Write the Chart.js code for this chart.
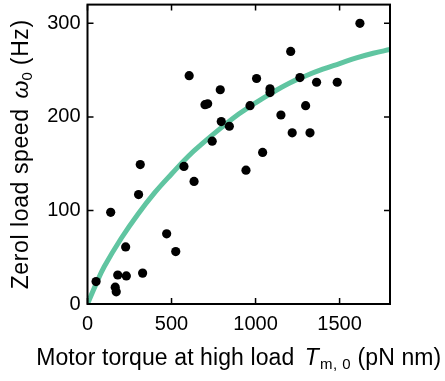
<!DOCTYPE html>
<html>
<head>
<meta charset="utf-8">
<script src="https://cdn.jsdelivr.net/npm/chart.js@4/dist/chart.umd.min.js"></script>
<style>
html,body{margin:0;padding:0;background:#fff;}
#wrap{width:445px;height:381px;}
</style>
</head>
<body>
<div id="wrap"><canvas id="c" width="445" height="381"></canvas></div>
<script>
// Measured points: motor torque (pN nm) and zero-load speed (Hz)
const torque = [51,165,171,180,231,227,138,304,314,328,471,525,574,605,634,699,715,742,790,796,844,943,967,1006,1042,1086,1086,1151,1209,1218,1264,1298,1324,1363,1486,1621];
const speed  = [24,18,13,31,30,61,98,117,149,33,75,56,147,244,131,213,214,174,229,195,190,143,212,241,162,230,226,202,270,183,242,212,183,237,237,300];
// Fitted curve
const curveX = [0,50,100,200,300,400,500,600,700,800,900,1000,1100,1200,1300,1400,1500,1600,1700,1800];
const curveY = [0,21,40,70,96,119,139,158,174,189,203,215,226,236,244,251,257,263,268,272];
const xTicks = [0,500,1000,1500];
const yTicks = [0,100,200,300];

const FONT = "'Liberation Sans', Arial, sans-serif";

const framePlugin = {
  id: 'frame',
  afterDatasetsDraw(chart) {
    const {ctx, chartArea: a, scales} = chart;
    ctx.save();
    ctx.strokeStyle = '#000';
    ctx.lineWidth = 2;
    ctx.strokeRect(a.left, a.top, a.right - a.left, a.bottom - a.top);
    ctx.lineWidth = 1.5;
    const L = 6;
    ctx.beginPath();
    xTicks.forEach(v => {
      const px = scales.x.getPixelForValue(v);
      ctx.moveTo(px, a.bottom); ctx.lineTo(px, a.bottom - L);
      ctx.moveTo(px, a.top); ctx.lineTo(px, a.top + L);
    });
    yTicks.forEach(v => {
      const py = scales.y.getPixelForValue(v);
      ctx.moveTo(a.left, py); ctx.lineTo(a.left + L, py);
      ctx.moveTo(a.right, py); ctx.lineTo(a.right - L, py);
    });
    ctx.stroke();
    ctx.restore();
  },
  afterDraw(chart) {
    const {ctx, chartArea: a} = chart;
    function drawSegs(segs, cx, cy) {
      let total = 0;
      segs.forEach(s => {
        ctx.font = s.font;
        ctx.letterSpacing = (s.ls || 0) + 'px';
        s.w = ctx.measureText(s.t).width + (s.dx || 0);
        total += s.w;
      });
      let x = cx - total / 2;
      segs.forEach(s => {
        ctx.font = s.font;
        ctx.letterSpacing = (s.ls || 0) + 'px';
        ctx.fillText(s.t, x + (s.dx || 0), cy + (s.dy || 0));
        x += s.w;
      });
    }
    ctx.save();
    ctx.fillStyle = '#000';
    ctx.textBaseline = 'middle';
    ctx.textAlign = 'left';
    const cxX = (a.left + a.right) / 2;
    drawSegs([
      {t: 'Motor torque at high load ', font: '23px ' + FONT, ls: 0.1},
      {t: 'T', font: 'italic 23px ' + FONT, dx: 4},
      {t: 'm, 0', font: '15px ' + FONT, dy: 6, dx: 1, ls: 0.5},
      {t: ' (pN nm)', font: '23px ' + FONT, ls: 0.1}
    ], cxX, 359);
    ctx.translate(22, (a.top + a.bottom) / 2);
    ctx.rotate(-Math.PI / 2);
    drawSegs([
      {t: 'Zerol load speed ', font: '23px ' + FONT, ls: 0.6},
      {t: 'ω', font: 'italic 23px ' + FONT, dx: 3},
      {t: '0', font: '15px ' + FONT, dy: 6},
      {t: ' (Hz)', font: '23px ' + FONT, ls: 0.6}
    ], 0, 0);
    ctx.restore();
  }
};

new Chart(document.getElementById('c'), {
  type: 'scatter',
  data: {
    datasets: [
      {
        label: 'data',
        data: torque.map((t, i) => ({x: t, y: speed[i]})),
        backgroundColor: '#000',
        borderColor: '#000',
        pointRadius: 4.6,
        pointHoverRadius: 4.6,
        borderWidth: 0
      },
      {
        type: 'line',
        label: 'fit',
        data: curveX.map((t, i) => ({x: t, y: curveY[i]})),
        borderColor: '#60c5a1',
        borderWidth: 5,
        pointRadius: 0,
        fill: false,
        tension: 0.4
      }
    ]
  },
  options: {
    responsive: false,
    animation: false,
    events: [],
    layout: {padding: {left: 0, right: 55, top: 3, bottom: 0}},
    plugins: {legend: {display: false}, tooltip: {enabled: false}},
    scales: {
      x: {
        type: 'linear', min: 0, max: 1800,
        grid: {display: false, drawTicks: false}, border: {display: false},
        afterBuildTicks: s => { s.ticks = xTicks.map(v => ({value: v})); },
        afterFit: s => { s.height = 77; s.paddingLeft = 0; s.paddingRight = 0; },
        ticks: {color: '#000', font: {family: FONT, size: 20}, padding: 8, maxRotation: 0,
                callback: v => String(v)}
      },
      y: {
        type: 'linear', min: 0, max: 320,
        grid: {display: false, drawTicks: false}, border: {display: false},
        afterBuildTicks: s => { s.ticks = yTicks.map(v => ({value: v})); },
        afterFit: s => { s.width = 87.5; s.paddingTop = 0; s.paddingBottom = 0; },
        ticks: {color: '#000', font: {family: FONT, size: 20}, padding: 7,
                callback: v => String(v)}
      }
    }
  },
  plugins: [framePlugin]
});
</script>
</body>
</html>
